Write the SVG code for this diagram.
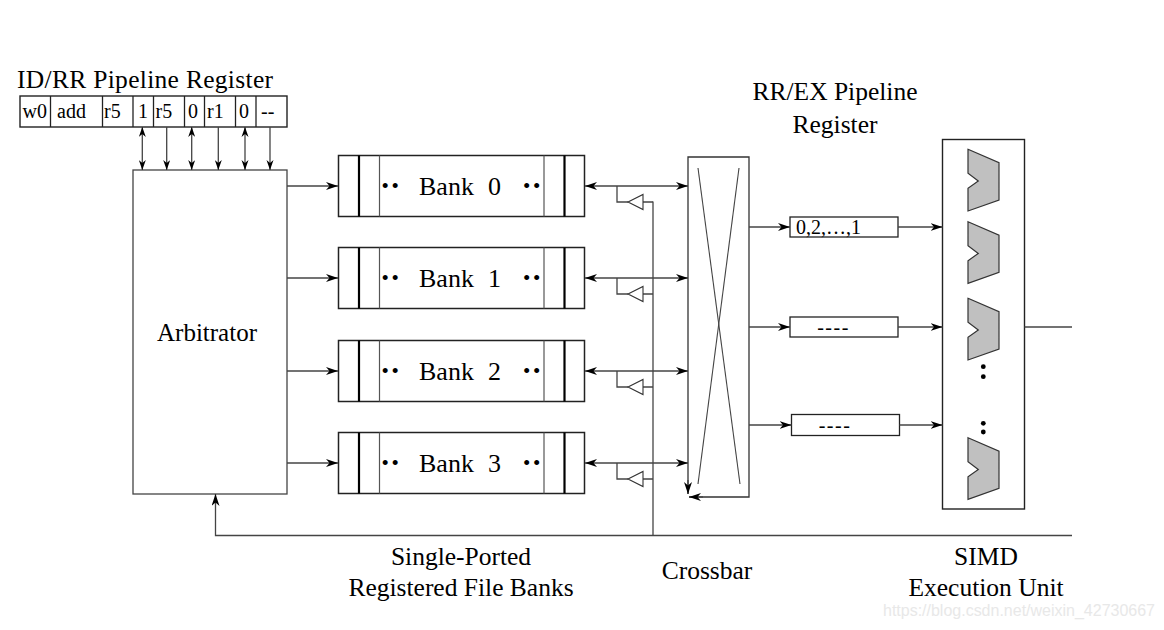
<svg xmlns="http://www.w3.org/2000/svg" width="1164" height="630" viewBox="0 0 1164 630">
<defs>
<style>
.ln{stroke:#444;stroke-width:1.3;fill:none}
.bx{stroke:#222;stroke-width:1.5;fill:#fff}
.thk{stroke:#000;stroke-width:2.2}
.thn{stroke:#555;stroke-width:1.2}
.t{font-family:"Liberation Serif","Times New Roman",serif;fill:#000}
.lbl{font-size:25px}
.cell{font-size:20px}
.dots{font-size:21px;letter-spacing:2.6px}
.alu{fill:#c0c0c0;stroke:#333;stroke-width:1.2}
.wm{font-family:"Liberation Sans",Arial,sans-serif;font-size:16px;fill:#e8e8e8}
</style>
<marker id="ah" viewBox="0 0 12 8" refX="12" refY="4" markerWidth="12" markerHeight="8" markerUnits="userSpaceOnUse" orient="auto-start-reverse"><path d="M0,0 L12,4 L0,8 L3.5,4 z" fill="#000"/></marker>
<marker id="as" viewBox="0 0 10 7" refX="10" refY="3.5" markerWidth="10" markerHeight="7.5" markerUnits="userSpaceOnUse" orient="auto-start-reverse"><path d="M0,0 L10,3.5 L0,7 L3,3.5 z" fill="#000"/></marker>
<polygon id="aluShape" points="0,0 31,13.4 31,50.7 0,61.7 0,39 10.3,31.7 0,24"/>
<polygon id="buf" points="0,0 15,-7.5 15,7.5"/>
</defs>
<rect width="1164" height="630" fill="#fff"/>

<!-- ID/RR pipeline register -->
<g id="idrr">
<text class="t" x="17" y="87.5" font-size="25.5" textLength="256">ID/RR Pipeline Register</text>
<rect class="bx" x="20" y="96" width="267" height="31" style="stroke-width:1.4"/>
<g class="ln" style="stroke:#222">
<line x1="50.5" y1="96" x2="50.5" y2="127"/>
<line x1="102.5" y1="96" x2="102.5" y2="127"/>
<line x1="133" y1="96" x2="133" y2="127"/>
<line x1="153.5" y1="96" x2="153.5" y2="127"/>
<line x1="184.5" y1="96" x2="184.5" y2="127"/>
<line x1="204.5" y1="96" x2="204.5" y2="127"/>
<line x1="235.5" y1="96" x2="235.5" y2="127"/>
<line x1="256" y1="96" x2="256" y2="127"/>
</g>
<g class="t cell">
<text x="22.5" y="117.5">w0</text>
<text x="57" y="117.5">add</text>
<text x="104" y="117.5">r5</text>
<text x="138" y="117.5">1</text>
<text x="155.5" y="117.5">r5</text>
<text x="188" y="117.5">0</text>
<text x="207" y="117.5">r1</text>
<text x="239" y="117.5">0</text>
<text x="261" y="117.5">--</text>
</g>
</g>

<!-- Arbitrator -->
<g id="arbitrator">
<rect class="bx" x="133" y="170" width="154" height="324" style="stroke:#444;stroke-width:1.3"/>
<text class="t lbl" x="207" y="341" text-anchor="middle" font-size="26">Arbitrator</text>
</g>

<!-- Banks -->
<g id="bank0">
<rect class="bx" x="338.5" y="155.5" width="246" height="61"/>
<line class="thk" x1="359" y1="155.5" x2="359" y2="216.5"/>
<line class="thn" x1="379.5" y1="155.5" x2="379.5" y2="216.5"/>
<line class="thn" x1="544" y1="155.5" x2="544" y2="216.5"/>
<line class="thk" x1="564.5" y1="155.5" x2="564.5" y2="216.5"/>
<text class="t dots" x="381.5" y="193">••</text>
<text class="t dots" x="523" y="193">••</text>
<text class="t" x="419" y="195" font-size="26">Bank <tspan x="488">0</tspan></text>
</g>
<g id="bank1">
<rect class="bx" x="338.5" y="247.5" width="246" height="61"/>
<line class="thk" x1="359" y1="247.5" x2="359" y2="308.5"/>
<line class="thn" x1="379.5" y1="247.5" x2="379.5" y2="308.5"/>
<line class="thn" x1="544" y1="247.5" x2="544" y2="308.5"/>
<line class="thk" x1="564.5" y1="247.5" x2="564.5" y2="308.5"/>
<text class="t dots" x="381.5" y="285">••</text>
<text class="t dots" x="523" y="285">••</text>
<text class="t" x="419" y="287" font-size="26">Bank <tspan x="488">1</tspan></text>
</g>
<g id="bank2">
<rect class="bx" x="338.5" y="340.5" width="246" height="61"/>
<line class="thk" x1="359" y1="340.5" x2="359" y2="401.5"/>
<line class="thn" x1="379.5" y1="340.5" x2="379.5" y2="401.5"/>
<line class="thn" x1="544" y1="340.5" x2="544" y2="401.5"/>
<line class="thk" x1="564.5" y1="340.5" x2="564.5" y2="401.5"/>
<text class="t dots" x="381.5" y="378">••</text>
<text class="t dots" x="523" y="378">••</text>
<text class="t" x="419" y="380" font-size="26">Bank <tspan x="488">2</tspan></text>
</g>
<g id="bank3">
<rect class="bx" x="338.5" y="432.5" width="246" height="61"/>
<line class="thk" x1="359" y1="432.5" x2="359" y2="493.5"/>
<line class="thn" x1="379.5" y1="432.5" x2="379.5" y2="493.5"/>
<line class="thn" x1="544" y1="432.5" x2="544" y2="493.5"/>
<line class="thk" x1="564.5" y1="432.5" x2="564.5" y2="493.5"/>
<text class="t dots" x="381.5" y="470">••</text>
<text class="t dots" x="523" y="470">••</text>
<text class="t" x="419" y="472" font-size="26">Bank <tspan x="488">3</tspan></text>
</g>

<!-- Crossbar -->
<g id="crossbar">
<path class="ln" d="M688,494 L688,157 L749,157 L749,497 L689,497" style="stroke:#333"/>
<line class="ln" x1="698" y1="168" x2="740" y2="484" style="stroke-width:1.1"/>
<line class="ln" x1="739" y1="168" x2="698" y2="484" style="stroke-width:1.1"/>
<line x1="688" y1="480" x2="688" y2="494" class="ln" marker-end="url(#ah)"/>
<line x1="703" y1="497" x2="689" y2="497" class="ln" marker-end="url(#ah)"/>
</g>

<!-- RR/EX pipeline registers -->
<g id="rrex">
<text class="t" x="835" y="100" text-anchor="middle" font-size="25.5">RR/EX Pipeline</text>
<text class="t" x="835" y="133" text-anchor="middle" font-size="25.5">Register</text>
</g>
<g id="reg0">
<rect class="bx" x="790" y="217" width="108" height="20" style="stroke-width:1.3"/>
<text class="t cell" x="796" y="234">0,2,…,1</text>
</g>
<g id="reg1">
<rect class="bx" x="790" y="317" width="108" height="20" style="stroke-width:1.3"/>
<text class="t cell" x="833.5" y="333.5" text-anchor="middle" letter-spacing="1.5">----</text>
</g>
<g id="reg2">
<rect class="bx" x="791.5" y="414.5" width="108" height="21" style="stroke-width:1.3"/>
<text class="t cell" x="835" y="431.5" text-anchor="middle" letter-spacing="1.5">----</text>
</g>

<!-- SIMD execution unit -->
<g id="simd">
<rect class="bx" x="942.5" y="139.5" width="82" height="369.5" style="stroke-width:1.4"/>
<use href="#aluShape" class="alu" x="968" y="149.3"/>
<use href="#aluShape" class="alu" x="968" y="221.7"/>
<use href="#aluShape" class="alu" x="968" y="298.3"/>
<use href="#aluShape" class="alu" x="968" y="437.7"/>
<circle cx="983.3" cy="366.7" r="2.4" fill="#000"/>
<circle cx="983.3" cy="376.7" r="2.4" fill="#000"/>
<circle cx="983.3" cy="423.3" r="2.4" fill="#000"/>
<circle cx="983.3" cy="432" r="2.4" fill="#000"/>
</g>

<!-- Connectors -->
<g id="connectors" class="ln">
<line x1="142.3" y1="127" x2="142.3" y2="170" marker-start="url(#as)" marker-end="url(#as)"/>
<line x1="166.7" y1="127" x2="166.7" y2="170" marker-end="url(#as)"/>
<line x1="191.7" y1="127" x2="191.7" y2="170" marker-start="url(#as)" marker-end="url(#as)"/>
<line x1="218.3" y1="127" x2="218.3" y2="170" marker-end="url(#as)"/>
<line x1="245" y1="127" x2="245" y2="170" marker-start="url(#as)" marker-end="url(#as)"/>
<line x1="270" y1="127" x2="270" y2="170" marker-end="url(#as)"/>
<line x1="287" y1="186" x2="338" y2="186" marker-end="url(#ah)"/>
<line x1="287" y1="278" x2="338" y2="278" marker-end="url(#ah)"/>
<line x1="287" y1="371" x2="338" y2="371" marker-end="url(#ah)"/>
<line x1="287" y1="463" x2="338" y2="463" marker-end="url(#ah)"/>
<line x1="585" y1="186" x2="688" y2="186" marker-start="url(#ah)" marker-end="url(#ah)"/>
<line x1="585" y1="278" x2="688" y2="278" marker-start="url(#ah)" marker-end="url(#ah)"/>
<line x1="585" y1="371" x2="688" y2="371" marker-start="url(#ah)" marker-end="url(#ah)"/>
<line x1="585" y1="463" x2="688" y2="463" marker-start="url(#ah)" marker-end="url(#ah)"/>
<path d="M617,186 V202 H628 M643,202 H653"/>
<use href="#buf" x="628" y="202" style="fill:#fff;stroke:#333;stroke-width:1.1"/>
<path d="M617,278 V294 H628 M643,294 H653"/>
<use href="#buf" x="628" y="294" style="fill:#fff;stroke:#333;stroke-width:1.1"/>
<path d="M617,371 V387 H628 M643,387 H653"/>
<use href="#buf" x="628" y="387" style="fill:#fff;stroke:#333;stroke-width:1.1"/>
<path d="M617,463 V479 H628 M643,479 H653"/>
<use href="#buf" x="628" y="479" style="fill:#fff;stroke:#333;stroke-width:1.1"/>
<line x1="653" y1="201.5" x2="653" y2="535.5"/>
<path d="M1072,535.5 H215.5 V494" marker-end="url(#ah)"/>
<line x1="749" y1="227" x2="790" y2="227" marker-end="url(#ah)"/>
<line x1="749" y1="327" x2="790" y2="327" marker-end="url(#ah)"/>
<line x1="749" y1="425" x2="791.5" y2="425" marker-end="url(#ah)"/>
<line x1="898" y1="227" x2="942.5" y2="227" marker-end="url(#ah)"/>
<line x1="898" y1="327" x2="942.5" y2="327" marker-end="url(#ah)"/>
<line x1="899.5" y1="425" x2="942.5" y2="425" marker-end="url(#ah)"/>
<line x1="1024.5" y1="327" x2="1072" y2="327"/>
</g>

<!-- Captions -->
<g id="captions" class="t">
<text x="461" y="565" text-anchor="middle" font-size="25.5">Single-Ported</text>
<text x="461" y="596" text-anchor="middle" font-size="25.5">Registered File Banks</text>
<text x="707" y="579" text-anchor="middle" font-size="25.5">Crossbar</text>
<text x="986" y="565" text-anchor="middle" font-size="25.5">SIMD</text>
<text x="986" y="596" text-anchor="middle" font-size="25.5">Execution Unit</text>
</g>
<text class="wm" x="883" y="616" textLength="272">https://blog.csdn.net/weixin_42730667</text>
</svg>
